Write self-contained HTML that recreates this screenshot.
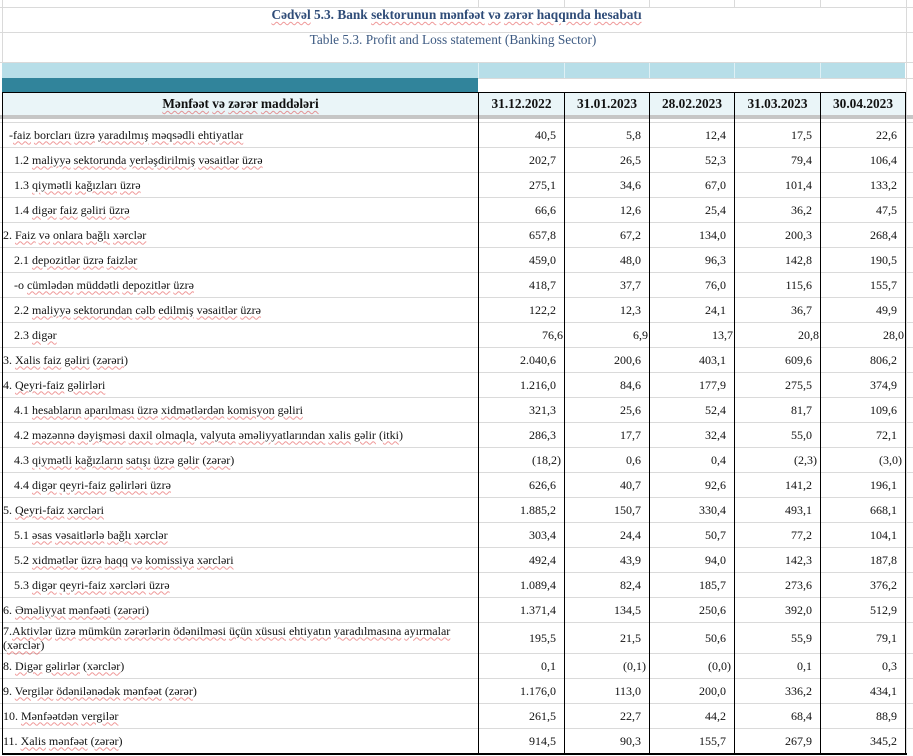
<!DOCTYPE html>
<html>
<head>
<meta charset="utf-8">
<style>
html,body{margin:0;padding:0;background:#fff;}
#w{position:relative;width:913px;height:756px;overflow:hidden;background:#fff;font-family:"Liberation Serif","DejaVu Serif",serif;color:#111;}
.l{position:absolute;}
.g{background:#dadada;}
.k{background:#000;}
u{text-decoration:underline wavy rgba(215,0,0,0.4);text-decoration-thickness:1px;text-underline-offset:2px;}
.t1{position:absolute;left:0;width:913px;top:6px;text-align:center;font-weight:bold;font-size:13.33px;color:#2f4c78;line-height:18px;}
.t2{position:absolute;left:0;width:906px;top:31px;text-align:center;font-size:13.33px;color:#3d5a82;line-height:18px;}
.hd{position:absolute;top:93px;height:22px;line-height:22px;text-align:center;font-weight:bold;font-size:13.33px;color:#111;}
table{position:absolute;left:2px;top:122px;border-collapse:separate;border-spacing:0;table-layout:fixed;width:903px;font-size:12px;}
td{padding:0;height:25px;line-height:14px;vertical-align:middle;white-space:nowrap;overflow:visible;}
td.n{text-align:right;padding-right:8px;}
td.p{text-align:right;padding-right:3px;}
td.f{text-align:right;padding-right:1px;}
td.a{padding-left:1px;}
td.b{padding-left:12px;}
td.c{padding-left:7px;}
tr.two td{height:31px;}
</style>
</head>
<body>
<div id="w">
<div class="l g" style="left:0;top:7px;width:913px;height:1px;"></div>
<div class="l g" style="left:0;top:32px;width:913px;height:1px;"></div>
<div class="l g" style="left:2px;top:0;width:1px;height:92px;"></div>
<div class="l g" style="left:906px;top:0;width:1px;height:122px;"></div>
<div class="l g" style="left:478px;top:0;width:1px;height:7px;"></div>
<div class="l g" style="left:564px;top:0;width:1px;height:7px;"></div>
<div class="l g" style="left:649px;top:0;width:1px;height:7px;"></div>
<div class="l g" style="left:734px;top:0;width:1px;height:7px;"></div>
<div class="l g" style="left:820px;top:0;width:1px;height:7px;"></div>
<div class="l g" style="left:0;top:62px;width:913px;height:1px;"></div>

<div class="t1"><u>Cədvəl</u> 5.3. Bank <u>sektorunun</u> <u>mənfəət</u> <u>və</u> <u>zərər</u> <u>haqqında</u> <u>hesabatı</u></div>
<div class="t2">Table 5.3. Profit and Loss statement (Banking Sector)</div>

<div class="l" style="left:2px;top:63px;width:903px;height:15px;background:#b7dee8;"></div>
<div class="l" style="left:478px;top:63px;width:1px;height:15px;background:#dff0f5;"></div>
<div class="l" style="left:564px;top:63px;width:1px;height:15px;background:#dff0f5;"></div>
<div class="l" style="left:649px;top:63px;width:1px;height:15px;background:#dff0f5;"></div>
<div class="l" style="left:734px;top:63px;width:1px;height:15px;background:#dff0f5;"></div>
<div class="l" style="left:820px;top:63px;width:1px;height:15px;background:#dff0f5;"></div>
<div class="l g" style="left:478px;top:78px;width:435px;height:1px;"></div>
<div class="l" style="left:2px;top:78px;width:476px;height:14px;background:#31849b;"></div>

<div class="l" style="left:3px;top:93px;width:902px;height:22px;background:#eaf5f8;"></div>
<div class="l k" style="left:2px;top:92px;width:904px;height:1px;"></div>
<div class="l" style="left:0;top:115px;width:913px;height:4px;background:#c6c6c6;"></div>

<div class="hd" style="left:3px;width:475px;"><u>Mənfəət</u> <u>və</u> <u>zərər</u> <u>maddələri</u></div>
<div class="hd" style="left:479px;width:85px;">31.12.2022</div>
<div class="hd" style="left:565px;width:84px;">31.01.2023</div>
<div class="hd" style="left:650px;width:84px;">28.02.2023</div>
<div class="hd" style="left:735px;width:85px;">31.03.2023</div>
<div class="hd" style="left:821px;width:84px;">30.04.2023</div>

<div class="l g" style="left:0;top:122px;width:913px;height:1px;"></div>
<div class="l g" style="left:0;top:147px;width:913px;height:1px;"></div>
<div class="l g" style="left:0;top:172px;width:913px;height:1px;"></div>
<div class="l g" style="left:0;top:197px;width:913px;height:1px;"></div>
<div class="l g" style="left:0;top:222px;width:913px;height:1px;"></div>
<div class="l g" style="left:0;top:247px;width:913px;height:1px;"></div>
<div class="l g" style="left:0;top:272px;width:913px;height:1px;"></div>
<div class="l g" style="left:0;top:297px;width:913px;height:1px;"></div>
<div class="l g" style="left:0;top:322px;width:913px;height:1px;"></div>
<div class="l g" style="left:0;top:347px;width:913px;height:1px;"></div>
<div class="l g" style="left:0;top:372px;width:913px;height:1px;"></div>
<div class="l g" style="left:0;top:397px;width:913px;height:1px;"></div>
<div class="l g" style="left:0;top:422px;width:913px;height:1px;"></div>
<div class="l g" style="left:0;top:447px;width:913px;height:1px;"></div>
<div class="l g" style="left:0;top:472px;width:913px;height:1px;"></div>
<div class="l g" style="left:0;top:497px;width:913px;height:1px;"></div>
<div class="l g" style="left:0;top:522px;width:913px;height:1px;"></div>
<div class="l g" style="left:0;top:547px;width:913px;height:1px;"></div>
<div class="l g" style="left:0;top:572px;width:913px;height:1px;"></div>
<div class="l g" style="left:0;top:597px;width:913px;height:1px;"></div>
<div class="l g" style="left:0;top:622px;width:913px;height:1px;"></div>
<div class="l g" style="left:0;top:653px;width:913px;height:1px;"></div>
<div class="l g" style="left:0;top:678px;width:913px;height:1px;"></div>
<div class="l g" style="left:0;top:703px;width:913px;height:1px;"></div>
<div class="l g" style="left:0;top:728px;width:913px;height:1px;"></div>
<div class="l g" style="left:906px;top:122px;width:1px;height:633px;"></div>

<div class="l k" style="left:2px;top:92px;width:1px;height:663px;"></div>
<div class="l k" style="left:478px;top:92px;width:1px;height:663px;"></div>
<div class="l k" style="left:564px;top:92px;width:1px;height:663px;"></div>
<div class="l k" style="left:649px;top:92px;width:1px;height:663px;"></div>
<div class="l k" style="left:734px;top:92px;width:1px;height:663px;"></div>
<div class="l k" style="left:820px;top:92px;width:1px;height:663px;"></div>
<div class="l k" style="left:905px;top:92px;width:1px;height:663px;"></div>
<div class="l k" style="left:2px;top:753px;width:905px;height:2px;"></div>

<table>
<colgroup><col style="width:476px"><col style="width:86px"><col style="width:85px"><col style="width:85px"><col style="width:86px"><col style="width:85px"></colgroup>
<tr><td class="c">-<u>faiz</u> <u>borcları</u> <u>üzrə</u> <u>yaradılmış</u> <u>məqsədli</u> <u>ehtiyatlar</u></td><td class="n">40,5</td><td class="n">5,8</td><td class="n">12,4</td><td class="n">17,5</td><td class="n">22,6</td></tr>
<tr><td class="b">1.2 <u>maliyyə</u> <u>sektorunda</u> <u>yerləşdirilmiş</u> <u>vəsaitlər</u> <u>üzrə</u></td><td class="n">202,7</td><td class="n">26,5</td><td class="n">52,3</td><td class="n">79,4</td><td class="n">106,4</td></tr>
<tr><td class="b">1.3 <u>qiymətli</u> <u>kağızları</u> <u>üzrə</u></td><td class="n">275,1</td><td class="n">34,6</td><td class="n">67,0</td><td class="n">101,4</td><td class="n">133,2</td></tr>
<tr><td class="b">1.4 <u>digər</u> <u>faiz</u> <u>gəliri</u> <u>üzrə</u></td><td class="n">66,6</td><td class="n">12,6</td><td class="n">25,4</td><td class="n">36,2</td><td class="n">47,5</td></tr>
<tr><td class="a">2. <u>Faiz</u> <u>və</u> <u>onlara</u> <u>bağlı</u> <u>xərclər</u></td><td class="n">657,8</td><td class="n">67,2</td><td class="n">134,0</td><td class="n">200,3</td><td class="n">268,4</td></tr>
<tr><td class="b">2.1 <u>depozitlər</u> <u>üzrə</u> <u>faizlər</u></td><td class="n">459,0</td><td class="n">48,0</td><td class="n">96,3</td><td class="n">142,8</td><td class="n">190,5</td></tr>
<tr><td class="b">-o <u>cümlədən</u> <u>müddətli</u> <u>depozitlər</u> <u>üzrə</u></td><td class="n">418,7</td><td class="n">37,7</td><td class="n">76,0</td><td class="n">115,6</td><td class="n">155,7</td></tr>
<tr><td class="b">2.2 <u>maliyyə</u> <u>sektorundan</u> <u>cəlb</u> <u>edilmiş</u> <u>vəsaitlər</u> <u>üzrə</u></td><td class="n">122,2</td><td class="n">12,3</td><td class="n">24,1</td><td class="n">36,7</td><td class="n">49,9</td></tr>
<tr><td class="b">2.3 <u>digər</u></td><td class="f">76,6</td><td class="f">6,9</td><td class="f">13,7</td><td class="f">20,8</td><td class="f">28,0</td></tr>
<tr><td class="a">3. <u>Xalis</u> <u>faiz</u> <u>gəliri</u> (<u>zərəri</u>)</td><td class="n">2.040,6</td><td class="n">200,6</td><td class="n">403,1</td><td class="n">609,6</td><td class="n">806,2</td></tr>
<tr><td class="a">4. <u>Qeyri-faiz</u> <u>gəlirləri</u></td><td class="n">1.216,0</td><td class="n">84,6</td><td class="n">177,9</td><td class="n">275,5</td><td class="n">374,9</td></tr>
<tr><td class="b">4.1 <u>hesabların</u> <u>aparılması</u> <u>üzrə</u> <u>xidmətlərdən</u> <u>komisyon</u> <u>gəliri</u></td><td class="n">321,3</td><td class="n">25,6</td><td class="n">52,4</td><td class="n">81,7</td><td class="n">109,6</td></tr>
<tr><td class="b">4.2 <u>məzənnə</u> <u>dəyişməsi</u> <u>daxil</u> <u>olmaqla</u>, <u>valyuta</u> <u>əməliyyatlarından</u> <u>xalis</u> <u>gəlir</u> (<u>itki</u>)</td><td class="n">286,3</td><td class="n">17,7</td><td class="n">32,4</td><td class="n">55,0</td><td class="n">72,1</td></tr>
<tr><td class="b">4.3 <u>qiymətli</u> <u>kağızların</u> <u>satışı</u> <u>üzrə</u> <u>gəlir</u> (<u>zərər</u>)</td><td class="p">(18,2)</td><td class="n">0,6</td><td class="n">0,4</td><td class="p">(2,3)</td><td class="p">(3,0)</td></tr>
<tr><td class="b">4.4 <u>digər</u> <u>qeyri-faiz</u> <u>gəlirləri</u> <u>üzrə</u></td><td class="n">626,6</td><td class="n">40,7</td><td class="n">92,6</td><td class="n">141,2</td><td class="n">196,1</td></tr>
<tr><td class="a">5. <u>Qeyri-faiz</u> <u>xərcləri</u></td><td class="n">1.885,2</td><td class="n">150,7</td><td class="n">330,4</td><td class="n">493,1</td><td class="n">668,1</td></tr>
<tr><td class="b">5.1 <u>əsas</u> <u>vəsaitlərlə</u> <u>bağlı</u> <u>xərclər</u></td><td class="n">303,4</td><td class="n">24,4</td><td class="n">50,7</td><td class="n">77,2</td><td class="n">104,1</td></tr>
<tr><td class="b">5.2 <u>xidmətlər</u> <u>üzrə</u> <u>haqq</u> <u>və</u> <u>komissiya</u> <u>xərcləri</u></td><td class="n">492,4</td><td class="n">43,9</td><td class="n">94,0</td><td class="n">142,3</td><td class="n">187,8</td></tr>
<tr><td class="b">5.3 <u>digər</u> <u>qeyri-faiz</u> <u>xərcləri</u> <u>üzrə</u></td><td class="n">1.089,4</td><td class="n">82,4</td><td class="n">185,7</td><td class="n">273,6</td><td class="n">376,2</td></tr>
<tr><td class="a">6. <u>Əməliyyat</u> <u>mənfəəti</u> (<u>zərəri</u>)</td><td class="n">1.371,4</td><td class="n">134,5</td><td class="n">250,6</td><td class="n">392,0</td><td class="n">512,9</td></tr>
<tr class="two"><td class="a">7.<u>Aktivlər</u> <u>üzrə</u> <u>mümkün</u> <u>zərərlərin</u> <u>ödənilməsi</u> <u>üçün</u> <u>xüsusi</u> <u>ehtiyatın</u> <u>yaradılmasına</u> <u>ayırmalar</u><br>(<u>xərclər</u>)</td><td class="n">195,5</td><td class="n">21,5</td><td class="n">50,6</td><td class="n">55,9</td><td class="n">79,1</td></tr>
<tr><td class="a">8. <u>Digər</u> <u>gəlirlər</u> (<u>xərclər</u>)</td><td class="n">0,1</td><td class="p">(0,1)</td><td class="p">(0,0)</td><td class="n">0,1</td><td class="n">0,3</td></tr>
<tr><td class="a">9. <u>Vergilər</u> <u>ödənilənədək</u> <u>mənfəət</u> (<u>zərər</u>)</td><td class="n">1.176,0</td><td class="n">113,0</td><td class="n">200,0</td><td class="n">336,2</td><td class="n">434,1</td></tr>
<tr><td class="a">10. <u>Mənfəətdən</u> <u>vergilər</u></td><td class="n">261,5</td><td class="n">22,7</td><td class="n">44,2</td><td class="n">68,4</td><td class="n">88,9</td></tr>
<tr><td class="a">11. <u>Xalis</u> <u>mənfəət</u> (<u>zərər</u>)</td><td class="n">914,5</td><td class="n">90,3</td><td class="n">155,7</td><td class="n">267,9</td><td class="n">345,2</td></tr>
</table>
</div>
</body>
</html>
